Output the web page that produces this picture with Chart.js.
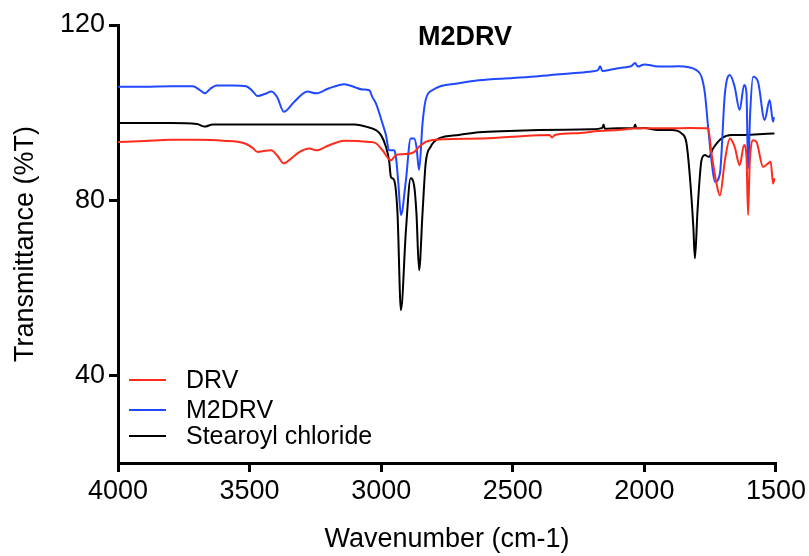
<!DOCTYPE html>
<html>
<head>
<meta charset="utf-8">
<script src="https://cdn.jsdelivr.net/npm/chart.js@4.4.1/dist/chart.umd.min.js"></script>
<style>
  body { margin: 0; background: #fff; }
  canvas { display: block; }
</style>
</head>
<body>
<canvas id="ftirChart" width="809" height="556"></canvas>
<script>
// wavenumbers (cm-1) and transmittance (%T)
var drvWave = [4000, 3900, 3800, 3700, 3600, 3520, 3490, 3469, 3440, 3418, 3395, 3370, 3340, 3311, 3273, 3247, 3200, 3140, 3045, 3020, 2995, 2963, 2944, 2919, 2875, 2856, 2831, 2768, 2629, 2500, 2360, 2351, 2340, 2250, 2174, 2100, 2023, 1900, 1833, 1758, 1745, 1726, 1713, 1694, 1675, 1657, 1638, 1621, 1612, 1606, 1600, 1587, 1574, 1549, 1530, 1520, 1511, 1506];
var drvT = [93.3, 93.5, 93.8, 93.8, 93.6, 93.0, 92.0, 91.0, 91.3, 91.4, 90.2, 88.4, 89.6, 91.0, 91.8, 91.4, 92.5, 93.6, 93.3, 93.0, 91.4, 89.1, 90.3, 90.5, 91.0, 92.2, 93.3, 93.9, 94.1, 94.5, 94.9, 94.3, 94.9, 95.3, 95.8, 96.0, 96.4, 96.4, 96.5, 96.4, 90.7, 83.8, 81.1, 89.1, 94.1, 92.2, 88.0, 92.6, 90.0, 76.6, 88.0, 93.7, 93.3, 87.6, 88.4, 88.8, 83.8, 85.0];

var m2drvWave = [4000, 3900, 3800, 3716, 3690, 3670, 3650, 3626, 3560, 3513, 3490, 3470, 3440, 3418, 3395, 3370, 3330, 3280, 3247, 3200, 3140, 3072, 3045, 3034, 3020, 2995, 2982, 2970, 2951, 2944, 2935, 2925, 2906, 2888, 2875, 2866, 2856, 2843, 2831, 2806, 2705, 2629, 2500, 2402, 2275, 2200, 2175, 2168, 2160, 2120, 2080, 2050, 2035, 2025, 2000, 1960, 1922, 1871, 1802, 1783, 1770, 1758, 1745, 1732, 1713, 1694, 1675, 1657, 1638, 1621, 1612, 1606, 1598, 1587, 1568, 1543, 1524, 1511, 1508];
var m2drvT = [105.9, 105.9, 106.0, 106.0, 105.2, 104.4, 105.4, 106.2, 106.2, 106.0, 105.0, 103.8, 104.3, 104.8, 103.5, 100.2, 102.5, 104.8, 104.4, 105.5, 106.5, 105.3, 105.1, 103.6, 102.1, 97.5, 94.9, 91.4, 91.4, 89.9, 84.0, 76.6, 84.6, 94.1, 94.1, 92.2, 86.9, 97.5, 102.9, 105.1, 106.7, 107.4, 107.9, 108.3, 109.0, 109.4, 109.8, 110.6, 109.5, 109.9, 110.3, 110.6, 111.3, 110.5, 111.0, 110.6, 110.5, 110.6, 109.7, 108.2, 104.4, 96.8, 89.1, 84.2, 86.1, 104.4, 108.6, 105.9, 100.6, 106.3, 104.4, 87.2, 100.0, 108.2, 107.0, 98.3, 102.9, 97.9, 99.0];

var stearoylWave = [4000, 3800, 3700, 3670, 3640, 3500, 3300, 3100, 3058, 3020, 3000, 2982, 2970, 2963, 2951, 2938, 2925, 2906, 2888, 2875, 2866, 2856, 2843, 2831, 2812, 2780, 2705, 2629, 2515, 2400, 2300, 2200, 2160, 2155, 2150, 2100, 2040, 2035, 2030, 2000, 1950, 1896, 1858, 1840, 1827, 1814, 1808, 1798, 1783, 1770, 1755, 1739, 1707, 1669, 1619, 1511, 1506];
var stearoylT = [97.6, 97.6, 97.4, 96.8, 97.3, 97.3, 97.3, 97.3, 96.8, 96.0, 94.8, 92.2, 89.1, 85.3, 84.6, 77.0, 54.9, 73.1, 85.0, 83.4, 77.0, 64.0, 77.0, 88.4, 92.2, 94.1, 94.9, 95.5, 95.8, 96.0, 96.1, 96.2, 96.5, 97.3, 96.3, 96.4, 96.5, 97.3, 96.4, 96.5, 96.0, 96.0, 95.2, 93.0, 85.3, 73.9, 66.7, 77.7, 89.1, 90.3, 89.9, 91.8, 94.1, 94.9, 94.9, 95.2, 95.2];

var yTickValues = [40, 80, 120];

function toPoints(xs, ys) {
  return xs.map(function (x, i) { return { x: x, y: ys[i] }; });
}

Chart.defaults.font.family = '"Liberation Sans", Arial, sans-serif';
Chart.defaults.color = '#000';

// title and legend are drawn inside the plot area, like the original
var insidePlot = {
  id: 'insidePlot',
  afterDraw: function (chart) {
    var ctx = chart.ctx, a = chart.chartArea;
    ctx.save();
    ctx.fillStyle = '#000';
    ctx.font = 'bold 27px "Liberation Sans", Arial, sans-serif';
    ctx.textAlign = 'center';
    ctx.textBaseline = 'middle';
    ctx.fillText('M2DRV', a.left + 347, a.top + 13);

    var rows = [83, 53, 27];
    ctx.font = '25px "Liberation Sans", Arial, sans-serif';
    ctx.textAlign = 'left';
    chart.data.datasets.forEach(function (ds, i) {
      var y = a.bottom - rows[i];
      ctx.strokeStyle = ds.borderColor;
      ctx.lineWidth = 2;
      ctx.beginPath();
      ctx.moveTo(a.left + 11, y);
      ctx.lineTo(a.left + 48, y);
      ctx.stroke();
      ctx.fillText(ds.label, a.left + 68, y + 1);
    });
    ctx.restore();
  }
};

new Chart(document.getElementById('ftirChart').getContext('2d'), {
  type: 'line',
  data: {
    datasets: [
      { label: 'DRV', data: toPoints(drvWave, drvT), borderColor: '#ff2b1c' },
      { label: 'M2DRV', data: toPoints(m2drvWave, m2drvT), borderColor: '#1f48ff' },
      { label: 'Stearoyl chloride', data: toPoints(stearoylWave, stearoylT), borderColor: '#000000' }
    ]
  },
  options: {
    responsive: false,
    animation: false,
    layout: { padding: { top: 25, right: 31, left: 0, bottom: 0 } },
    elements: {
      point: { radius: 0 },
      line: { borderWidth: 2, cubicInterpolationMode: 'monotone', fill: false }
    },
    plugins: {
      legend: { display: false },
      tooltip: { enabled: false }
    },
    scales: {
      x: {
        type: 'linear',
        reverse: true,
        min: 1500,
        max: 4000,
        ticks: {
          stepSize: 500, font: { size: 27 }, color: '#000', padding: 3, maxRotation: 0,
          callback: function (v) { return String(v); }
        },
        grid: { drawOnChartArea: false, drawTicks: true, tickLength: 9, color: '#000', lineWidth: 3 },
        border: { display: true, color: '#000', width: 3 },
        title: { display: true, text: 'Wavenumber (cm-1)', font: { size: 27 }, color: '#000', padding: { top: 0, bottom: 0 } },
        afterFit: function (scale) { scale.height = 93; }
      },
      y: {
        min: 20,
        max: 120,
        afterBuildTicks: function (axis) {
          axis.ticks = yTickValues.map(function (v) { return { value: v }; });
        },
        ticks: { font: { size: 27 }, color: '#000', padding: 4 },
        grid: { drawOnChartArea: false, drawTicks: true, tickLength: 9, color: '#000', lineWidth: 3 },
        border: { display: true, color: '#000', width: 3 },
        title: { display: true, text: 'Transmittance (%T)', font: { size: 27 }, color: '#000', padding: { top: 9, bottom: 0 } },
        afterFit: function (scale) { scale.width = 118; }
      }
    }
  },
  plugins: [insidePlot]
});
</script>
</body>
</html>
